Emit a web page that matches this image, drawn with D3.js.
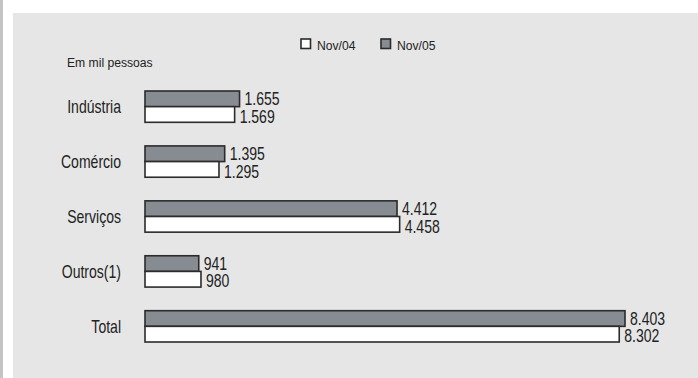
<!DOCTYPE html>
<html>
<head>
<meta charset="utf-8">
<script src="https://cdn.jsdelivr.net/npm/d3@7"></script>
<style>
  html, body { margin: 0; padding: 0; background: #fff; }
  svg { display: block; }
  text { font-family: "Liberation Sans", Arial, sans-serif; fill: #222; }
</style>
</head>
<body>
<svg id="chart" width="698" height="378"></svg>
<script>
// categories and series values (mil pessoas)
const categories = ['Indústria', 'Comércio', 'Serviços', 'Outros(1)', 'Total'];
const seriesNames = ['Nov/04', 'Nov/05'];
const nov04 = [1569, 1295, 4458, 980, 8302];
const nov05 = [1655, 1395, 4412, 941, 8403];
const unitLabel = 'Em mil pessoas';

const width = 698;
const height = 378;
const colors = { 'Nov/04': '#ffffff', 'Nov/05': '#878c93' };
const strokeColor = '#2b2b2b';
// the original type is a condensed face, squeeze it horizontally
const squeeze = 0.78;

const ptBR = d3.formatLocale({ decimal: ',', thousands: '.', grouping: [3], currency: ['R$', ''] });
const fmt = ptBR.format(',d');

const rows = categories.map((c, i) => ({
  category: c,
  values: [
    { series: 'Nov/05', value: nov05[i] },
    { series: 'Nov/04', value: nov04[i] },
  ],
}));

const svg = d3.select('#chart');

// frame: thin grey rule on the left, grey panel
svg.append('rect')
  .attr('x', 0).attr('y', 0)
  .attr('width', 3).attr('height', height)
  .attr('fill', '#c4c4c4');
svg.append('rect')
  .attr('x', 13).attr('y', 13)
  .attr('width', width - 13).attr('height', height - 13)
  .attr('fill', '#e6e6e6');

const x = d3.scaleLinear()
  .domain([0, d3.max(nov05.concat(nov04))])
  .range([145, 625]);

const y = d3.scaleBand()
  .domain(categories)
  .range([91, 342])
  .paddingInner(0.43);

const ySeries = d3.scaleBand()
  .domain(['Nov/05', 'Nov/04'])
  .range([0, y.bandwidth()]);

// category labels
svg.append('g')
  .selectAll('text')
  .data(categories)
  .join('text')
  .attr('transform', (d) => `translate(121,${y(d) + y.bandwidth() / 2}) scale(${squeeze},1)`)
  .attr('text-anchor', 'end')
  .attr('dominant-baseline', 'central')
  .style('font-size', '18px')
  .text((d) => d);

// bars
const group = svg.append('g')
  .selectAll('g')
  .data(rows)
  .join('g')
  .attr('transform', (d) => `translate(0,${y(d.category)})`);

group.selectAll('rect')
  .data((d) => d.values)
  .join('rect')
  .attr('x', x(0))
  .attr('y', (d) => ySeries(d.series))
  .attr('width', (d) => x(d.value) - x(0))
  .attr('height', ySeries.bandwidth())
  .attr('fill', (d) => colors[d.series])
  .attr('stroke', strokeColor)
  .attr('stroke-width', 1.6);

// value labels: upper one nudged up, lower one nudged down
group.selectAll('text')
  .data((d) => d.values)
  .join('text')
  .attr('transform', (d) => {
    const nudge = d.series === 'Nov/05' ? -0.5 : 1.5;
    const ty = ySeries(d.series) + ySeries.bandwidth() / 2 + nudge;
    return `translate(${x(d.value) + 5},${ty}) scale(${squeeze},1)`;
  })
  .attr('dominant-baseline', 'central')
  .style('font-size', '18px')
  .text((d) => fmt(d.value));

// unit note
svg.append('text')
  .attr('transform', `translate(67,62) scale(0.9,1)`)
  .attr('dominant-baseline', 'central')
  .style('font-size', '13.5px')
  .text(unitLabel);

// legend
const legendX = d3.scalePoint()
  .domain(seriesNames)
  .range([301, 381]);

const legend = svg.append('g')
  .selectAll('g')
  .data(seriesNames)
  .join('g')
  .attr('transform', (d) => `translate(${legendX(d)},39)`);

legend.append('rect')
  .attr('width', 9.5)
  .attr('height', 9.5)
  .attr('fill', (d) => colors[d])
  .attr('stroke', strokeColor)
  .attr('stroke-width', 1.6);

legend.append('text')
  .attr('transform', `translate(16,6) scale(0.9,1)`)
  .attr('dominant-baseline', 'central')
  .style('font-size', '13.5px')
  .text((d) => d);
</script>
</body>
</html>
